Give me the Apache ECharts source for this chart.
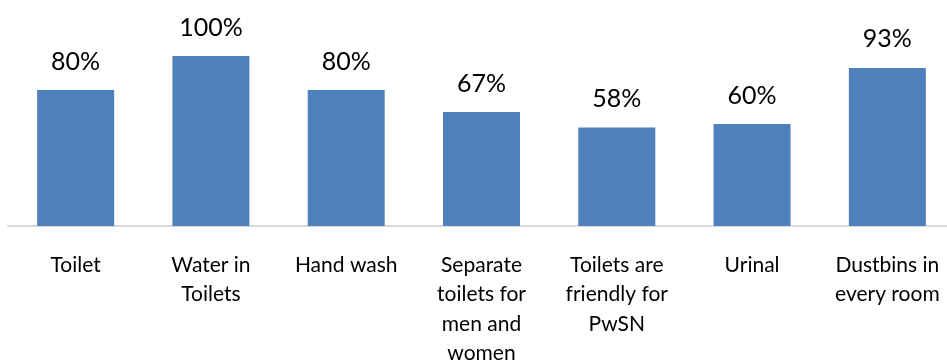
<!DOCTYPE html>
<html>
<head>
<meta charset="utf-8">
<script src="https://cdn.jsdelivr.net/npm/echarts@6/dist/echarts.min.js"></script>
<style>
  html, body { margin: 0; padding: 0; background: #ffffff; }
  #chart { width: 947px; height: 361px; }
</style>
</head>
<body>
<div id="chart"></div>
<script>
// Facilities available (share of schools, %)
const categories = [
  'Toilet',
  'Water in\nToilets',
  'Hand wash',
  'Separate\ntoilets for\nmen and\nwomen',
  'Toilets are\nfriendly for\nPwSN',
  'Urinal',
  'Dustbins in\nevery room'
];
const values = [80, 100, 80, 67, 58, 60, 93];

const chart = echarts.init(document.getElementById('chart'), null, { renderer: 'canvas' });

chart.setOption({
  animation: false,
  backgroundColor: '#ffffff',
  grid: {
    left: 8, right: -8, top: 56, bottom: 135,
    containLabel: false,
    outerBoundsMode: 'none'
  },
  xAxis: {
    type: 'category',
    data: categories,
    axisLine: { show: true, lineStyle: { color: '#d9d9d9', width: 2 } },
    axisTick: { show: false },
    axisLabel: {
      interval: 0,
      margin: 24,
      color: '#000000',
      fontFamily: 'Lato',
      fontSize: 21,
      lineHeight: 29.5,
      verticalAlign: 'top',
      hideOverlap: false
    }
  },
  yAxis: {
    type: 'value',
    min: 0,
    max: 100,
    show: false,
    splitLine: { show: false }
  },
  series: [{
    type: 'bar',
    data: values,
    barWidth: 77,
    itemStyle: { color: '#4f81bd' },
    label: {
      show: true,
      position: 'top',
      distance: 16,
      color: '#000000',
      fontFamily: 'Lato',
      fontSize: 25,
      formatter: '{c}%'
    }
  }]
});
</script>
</body>
</html>
